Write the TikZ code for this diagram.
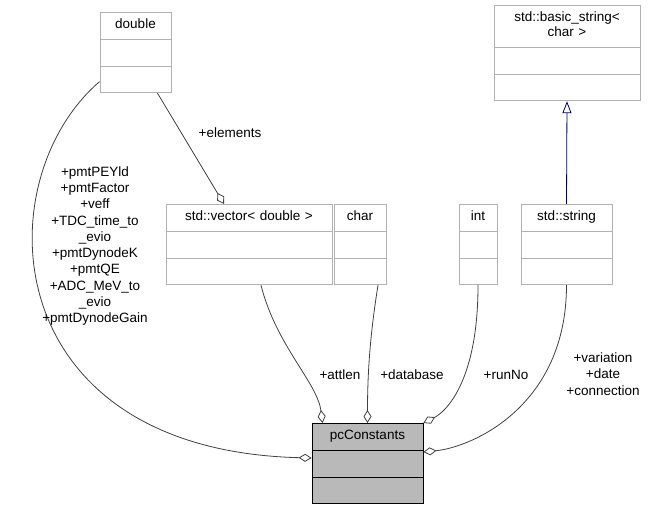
\documentclass[tikz,border=0pt]{standalone}
\usepackage{fontspec}
\setmainfont{Liberation Sans}
\usetikzlibrary{shapes.multipart,arrows.meta}
\newcommand{\emptyrow}{\rule{0pt}{15pt}}
\tikzset{
 cls/.style={rectangle split,rectangle split parts=3,draw=gray!60,
  inner xsep=0pt,inner ysep=5.5pt,line width=0.8pt,
  align=center,anchor=north,font=\fontsize{13.5}{15}\selectfont},
 agg/.style={draw=black!75,line width=0.8pt,-{Diamond[open,length=13pt,width=8pt]}},
 inh/.style={draw=blue!40!black,line width=0.8pt,{Triangle[open,length=12pt,width=9pt]}-},
 lbl/.style={font=\fontsize{13.5}{16.3}\selectfont,align=center,inner sep=0pt}
}
\begin{document}
\begin{tikzpicture}[x=1pt,y=-1pt]
\useasboundingbox (0,0) rectangle (651,509);
 \node[cls,text width=71pt] (dbl) at (135.5,12) {\strut double\nodepart{second}\emptyrow\nodepart{third}\emptyrow};
 \node[cls,text width=146pt] (bstr) at (567,5) {\strut std::basic\_string<\\\strut char >\nodepart{second}\emptyrow\nodepart{third}\emptyrow};
 \node[cls,text width=166pt] (vec) at (249,204) {\strut std::vector< double >\nodepart{second}\emptyrow\nodepart{third}\emptyrow};
 \node[cls,text width=52pt] (chr) at (360,204) {\strut char\nodepart{second}\emptyrow\nodepart{third}\emptyrow};
 \node[cls,text width=38pt] (int) at (478,204) {\strut int\nodepart{second}\emptyrow\nodepart{third}\emptyrow};
 \node[cls,text width=91pt] (str) at (566.5,204) {\strut std::string\nodepart{second}\emptyrow\nodepart{third}\emptyrow};
 \node[cls,text width=111pt,fill=gray!55,draw=black] (pc) at (367.5,423) {\strut pcConstants\nodepart{second}\emptyrow\nodepart{third}\emptyrow};

 \draw[inh] (bstr.south) -- (str.north);
 \draw[agg] ([xshift=22pt]dbl.south) -- ([xshift=-25pt]vec.north);
 \draw[agg] ([xshift=12pt]vec.south) .. controls +(15,60) and +(-5,-40) .. ([xshift=-45pt]pc.north);
 \draw[agg] ([xshift=18pt]chr.south) .. controls +(-8,50) and +(0,-50) .. (pc.north);
 \draw[agg] (int.south) .. controls +(0,100) and +(20,-10) .. (pc.north east);
 \draw[agg] (str.south) .. controls +(0,120) and +(50,-5) .. ([yshift=-29pt]pc.north east);
 \draw[agg] ([yshift=-29pt]dbl.west) .. controls (-15,180) and (-5,450) .. ([yshift=-35pt]pc.north west);

 \node[lbl] (lel) at (230,133) {+elements};
 \node[lbl] (lat) at (340,375) {+attlen};
 \node[lbl] (ldb) at (412,375) {+database};
 \node[lbl] (lrn) at (506,375) {+runNo};
 \node[lbl] (lvr) at (603,374) {+variation\\+date\\+connection};
 \node[lbl] (lpm) at (95,246) {+pmtPEYld\\+pmtFactor\\+veff\\+TDC\_time\_to\\\_evio\\+pmtDynodeK\\+pmtQE\\+ADC\_MeV\_to\\\_evio\\+pmtDynodeGain};
\end{tikzpicture}
\end{document}
